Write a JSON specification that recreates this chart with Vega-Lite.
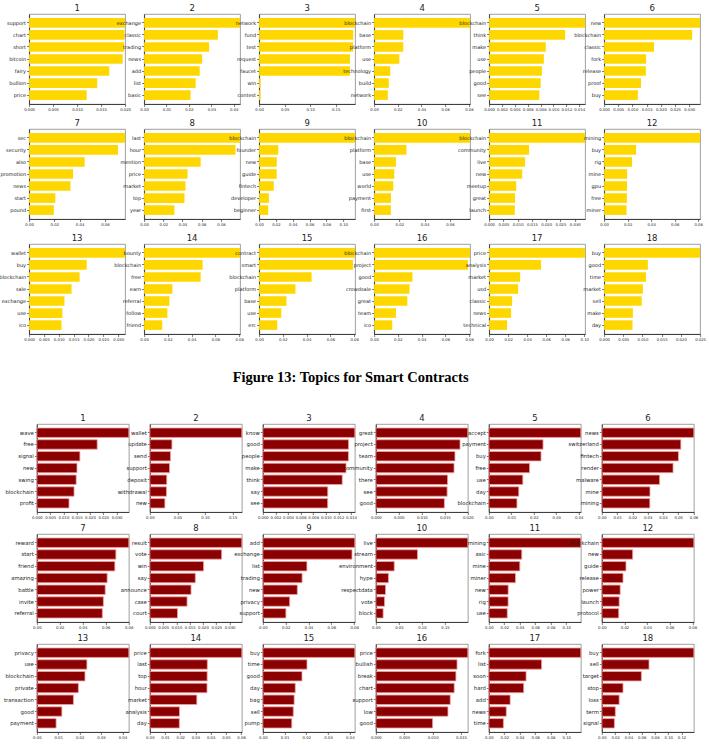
{
  "$schema": "https://vega.github.io/schema/vega-lite/v6.json",
  "background": "white",
  "padding": {"left": -2, "top": 3, "right": 2, "bottom": 2},
  "datasets": {
    "top": [
      {"panel": 1, "word": "support", "value": 0.0200}, {"panel": 1, "word": "chart", "value": 0.0199}, {"panel": 1, "word": "short", "value": 0.0198}, {"panel": 1, "word": "bitcoin", "value": 0.0195}, {"panel": 1, "word": "fairy", "value": 0.0167}, {"panel": 1, "word": "bullion", "value": 0.0142}, {"panel": 1, "word": "price", "value": 0.0120},
      {"panel": 2, "word": "exchange", "value": 0.0428}, {"panel": 2, "word": "classic", "value": 0.0329}, {"panel": 2, "word": "trading", "value": 0.0290}, {"panel": 2, "word": "news", "value": 0.0259}, {"panel": 2, "word": "add", "value": 0.0248}, {"panel": 2, "word": "list", "value": 0.0230}, {"panel": 2, "word": "basic", "value": 0.0207},
      {"panel": 3, "word": "network", "value": 0.188}, {"panel": 3, "word": "fund", "value": 0.1845}, {"panel": 3, "word": "test", "value": 0.184}, {"panel": 3, "word": "request", "value": 0.178}, {"panel": 3, "word": "faucet", "value": 0.1778}, {"panel": 3, "word": "win", "value": 0.003}, {"panel": 3, "word": "contest", "value": 0.0028},
      {"panel": 4, "word": "blockchain", "value": 0.081}, {"panel": 4, "word": "base", "value": 0.0247}, {"panel": 4, "word": "platform", "value": 0.0246}, {"panel": 4, "word": "use", "value": 0.0213}, {"panel": 4, "word": "technology", "value": 0.0136}, {"panel": 4, "word": "build", "value": 0.0124}, {"panel": 4, "word": "network", "value": 0.0116},
      {"panel": 5, "word": "blockchain", "value": 0.0149}, {"panel": 5, "word": "think", "value": 0.0118}, {"panel": 5, "word": "make", "value": 0.0088}, {"panel": 5, "word": "use", "value": 0.0085}, {"panel": 5, "word": "people", "value": 0.0082}, {"panel": 5, "word": "good", "value": 0.0080}, {"panel": 5, "word": "see", "value": 0.0078},
      {"panel": 6, "word": "new", "value": 0.0338}, {"panel": 6, "word": "blockchain", "value": 0.0310}, {"panel": 6, "word": "classic", "value": 0.0176}, {"panel": 6, "word": "fork", "value": 0.0148}, {"panel": 6, "word": "release", "value": 0.0147}, {"panel": 6, "word": "proof", "value": 0.0130}, {"panel": 6, "word": "buy", "value": 0.0119},
      {"panel": 7, "word": "sec", "value": 0.076}, {"panel": 7, "word": "security", "value": 0.0704}, {"panel": 7, "word": "also", "value": 0.044}, {"panel": 7, "word": "promotion", "value": 0.0348}, {"panel": 7, "word": "news", "value": 0.0328}, {"panel": 7, "word": "start", "value": 0.0208}, {"panel": 7, "word": "pound", "value": 0.0196},
      {"panel": 8, "word": "last", "value": 0.0998}, {"panel": 8, "word": "hour", "value": 0.095}, {"panel": 8, "word": "mention", "value": 0.0588}, {"panel": 8, "word": "price", "value": 0.0452}, {"panel": 8, "word": "market", "value": 0.043}, {"panel": 8, "word": "top", "value": 0.042}, {"panel": 8, "word": "year", "value": 0.0315},
      {"panel": 9, "word": "blockchain", "value": 0.114}, {"panel": 9, "word": "founder", "value": 0.0228}, {"panel": 9, "word": "new", "value": 0.021}, {"panel": 9, "word": "guide", "value": 0.0209}, {"panel": 9, "word": "fintech", "value": 0.0174}, {"panel": 9, "word": "developer", "value": 0.0116}, {"panel": 9, "word": "beginner", "value": 0.0108},
      {"panel": 10, "word": "blockchain", "value": 0.076}, {"panel": 10, "word": "platform", "value": 0.0256}, {"panel": 10, "word": "base", "value": 0.0173}, {"panel": 10, "word": "use", "value": 0.016}, {"panel": 10, "word": "world", "value": 0.0152}, {"panel": 10, "word": "payment", "value": 0.0134}, {"panel": 10, "word": "first", "value": 0.0133},
      {"panel": 11, "word": "blockchain", "value": 0.0336}, {"panel": 11, "word": "community", "value": 0.014}, {"panel": 11, "word": "live", "value": 0.0126}, {"panel": 11, "word": "new", "value": 0.0116}, {"panel": 11, "word": "meetup", "value": 0.0095}, {"panel": 11, "word": "great", "value": 0.0091}, {"panel": 11, "word": "launch", "value": 0.009},
      {"panel": 12, "word": "mining", "value": 0.0816}, {"panel": 12, "word": "buy", "value": 0.0272}, {"panel": 12, "word": "rig", "value": 0.0238}, {"panel": 12, "word": "mine", "value": 0.0196}, {"panel": 12, "word": "gpu", "value": 0.0195}, {"panel": 12, "word": "free", "value": 0.0194}, {"panel": 12, "word": "miner", "value": 0.0191},
      {"panel": 13, "word": "wallet", "value": 0.0323}, {"panel": 13, "word": "buy", "value": 0.0194}, {"panel": 13, "word": "blockchain", "value": 0.017}, {"panel": 13, "word": "sale", "value": 0.0143}, {"panel": 13, "word": "exchange", "value": 0.0119}, {"panel": 13, "word": "use", "value": 0.0112}, {"panel": 13, "word": "ico", "value": 0.0109},
      {"panel": 14, "word": "bounty", "value": 0.0808}, {"panel": 14, "word": "blockchain", "value": 0.0493}, {"panel": 14, "word": "free", "value": 0.0476}, {"panel": 14, "word": "earn", "value": 0.0238}, {"panel": 14, "word": "referral", "value": 0.0213}, {"panel": 14, "word": "follow", "value": 0.0196}, {"panel": 14, "word": "friend", "value": 0.0153},
      {"panel": 15, "word": "contract", "value": 0.0808}, {"panel": 15, "word": "smart", "value": 0.079}, {"panel": 15, "word": "blockchain", "value": 0.0442}, {"panel": 15, "word": "platform", "value": 0.0306}, {"panel": 15, "word": "base", "value": 0.023}, {"panel": 15, "word": "use", "value": 0.0187}, {"panel": 15, "word": "erc", "value": 0.0153},
      {"panel": 16, "word": "blockchain", "value": 0.0808}, {"panel": 16, "word": "project", "value": 0.079}, {"panel": 16, "word": "good", "value": 0.0323}, {"panel": 16, "word": "crowdsale", "value": 0.0298}, {"panel": 16, "word": "great", "value": 0.028}, {"panel": 16, "word": "team", "value": 0.0184}, {"panel": 16, "word": "ico", "value": 0.0153},
      {"panel": 17, "word": "price", "value": 0.1008}, {"panel": 17, "word": "analysis", "value": 0.0546}, {"panel": 17, "word": "market", "value": 0.0326}, {"panel": 17, "word": "usd", "value": 0.0305}, {"panel": 17, "word": "classic", "value": 0.0242}, {"panel": 17, "word": "news", "value": 0.0231}, {"panel": 17, "word": "technical", "value": 0.0189},
      {"panel": 18, "word": "buy", "value": 0.0250}, {"panel": 18, "word": "good", "value": 0.0114}, {"panel": 18, "word": "time", "value": 0.0109}, {"panel": 18, "word": "market", "value": 0.0101}, {"panel": 18, "word": "sell", "value": 0.0098}, {"panel": 18, "word": "make", "value": 0.0075}, {"panel": 18, "word": "day", "value": 0.0074}
    ],
    "bottom": [
      {"panel": 1, "word": "wave", "value": 0.0346}, {"panel": 1, "word": "free", "value": 0.0227}, {"panel": 1, "word": "signal", "value": 0.0162}, {"panel": 1, "word": "new", "value": 0.0151}, {"panel": 1, "word": "swing", "value": 0.0148}, {"panel": 1, "word": "blockchain", "value": 0.014}, {"panel": 1, "word": "profit", "value": 0.0121},
      {"panel": 2, "word": "wallet", "value": 0.1666}, {"panel": 2, "word": "update", "value": 0.040}, {"panel": 2, "word": "send", "value": 0.0374}, {"panel": 2, "word": "support", "value": 0.0357}, {"panel": 2, "word": "deposit", "value": 0.0306}, {"panel": 2, "word": "withdrawal", "value": 0.0301}, {"panel": 2, "word": "new", "value": 0.0272},
      {"panel": 3, "word": "know", "value": 0.0146}, {"panel": 3, "word": "good", "value": 0.0136}, {"panel": 3, "word": "people", "value": 0.01358}, {"panel": 3, "word": "make", "value": 0.0132}, {"panel": 3, "word": "think", "value": 0.0126}, {"panel": 3, "word": "say", "value": 0.0103}, {"panel": 3, "word": "see", "value": 0.01029},
      {"panel": 4, "word": "great", "value": 0.0200}, {"panel": 4, "word": "project", "value": 0.0183}, {"panel": 4, "word": "team", "value": 0.0172}, {"panel": 4, "word": "community", "value": 0.0170}, {"panel": 4, "word": "there", "value": 0.0156}, {"panel": 4, "word": "see", "value": 0.0155}, {"panel": 4, "word": "good", "value": 0.0149},
      {"panel": 5, "word": "accept", "value": 0.0409}, {"panel": 5, "word": "payment", "value": 0.0241}, {"panel": 5, "word": "buy", "value": 0.0232}, {"panel": 5, "word": "free", "value": 0.0181}, {"panel": 5, "word": "use", "value": 0.0151}, {"panel": 5, "word": "day", "value": 0.0133}, {"panel": 5, "word": "blockchain", "value": 0.0125},
      {"panel": 6, "word": "news", "value": 0.0602}, {"panel": 6, "word": "switzerland", "value": 0.0517}, {"panel": 6, "word": "fintech", "value": 0.0501}, {"panel": 6, "word": "render", "value": 0.0466}, {"panel": 6, "word": "malware", "value": 0.0378}, {"panel": 6, "word": "mine", "value": 0.0315}, {"panel": 6, "word": "mining", "value": 0.0314},
      {"panel": 7, "word": "reward", "value": 0.0802}, {"panel": 7, "word": "start", "value": 0.0689}, {"panel": 7, "word": "friend", "value": 0.068}, {"panel": 7, "word": "amazing", "value": 0.0613}, {"panel": 7, "word": "battle", "value": 0.0596}, {"panel": 7, "word": "invite", "value": 0.058}, {"panel": 7, "word": "referral", "value": 0.0571},
      {"panel": 8, "word": "result", "value": 0.0346}, {"panel": 8, "word": "vote", "value": 0.027}, {"panel": 8, "word": "win", "value": 0.0202}, {"panel": 8, "word": "say", "value": 0.0171}, {"panel": 8, "word": "announce", "value": 0.0155}, {"panel": 8, "word": "case", "value": 0.014}, {"panel": 8, "word": "court", "value": 0.0104},
      {"panel": 9, "word": "add", "value": 0.0806}, {"panel": 9, "word": "exchange", "value": 0.0781}, {"panel": 9, "word": "list", "value": 0.0386}, {"panel": 9, "word": "trading", "value": 0.0344}, {"panel": 9, "word": "new", "value": 0.0302}, {"panel": 9, "word": "privacy", "value": 0.0235}, {"panel": 9, "word": "support", "value": 0.0202},
      {"panel": 10, "word": "live", "value": 0.1995}, {"panel": 10, "word": "stream", "value": 0.0903}, {"panel": 10, "word": "environment", "value": 0.0399}, {"panel": 10, "word": "hype", "value": 0.0273}, {"panel": 10, "word": "respectdata", "value": 0.021}, {"panel": 10, "word": "vote", "value": 0.0189}, {"panel": 10, "word": "block", "value": 0.0158},
      {"panel": 11, "word": "mining", "value": 0.1188}, {"panel": 11, "word": "asic", "value": 0.0425}, {"panel": 11, "word": "mine", "value": 0.040}, {"panel": 11, "word": "miner", "value": 0.0344}, {"panel": 11, "word": "new", "value": 0.025}, {"panel": 11, "word": "rig", "value": 0.0249}, {"panel": 11, "word": "use", "value": 0.0238},
      {"panel": 12, "word": "blockchain", "value": 0.0812}, {"panel": 12, "word": "new", "value": 0.0272}, {"panel": 12, "word": "guide", "value": 0.0213}, {"panel": 12, "word": "release", "value": 0.0187}, {"panel": 12, "word": "power", "value": 0.0162}, {"panel": 12, "word": "launch", "value": 0.0153}, {"panel": 12, "word": "protocol", "value": 0.0149},
      {"panel": 13, "word": "privacy", "value": 0.0430}, {"panel": 13, "word": "use", "value": 0.0234}, {"panel": 13, "word": "blockchain", "value": 0.0225}, {"panel": 13, "word": "private", "value": 0.0194}, {"panel": 13, "word": "transaction", "value": 0.0171}, {"panel": 13, "word": "good", "value": 0.0117}, {"panel": 13, "word": "payment", "value": 0.009},
      {"panel": 14, "word": "price", "value": 0.0605}, {"panel": 14, "word": "last", "value": 0.0378}, {"panel": 14, "word": "top", "value": 0.0377}, {"panel": 14, "word": "hour", "value": 0.0376}, {"panel": 14, "word": "market", "value": 0.0309}, {"panel": 14, "word": "analysis", "value": 0.0195}, {"panel": 14, "word": "day", "value": 0.0194},
      {"panel": 15, "word": "buy", "value": 0.0423}, {"panel": 15, "word": "time", "value": 0.0203}, {"panel": 15, "word": "good", "value": 0.018}, {"panel": 15, "word": "day", "value": 0.0149}, {"panel": 15, "word": "bag", "value": 0.0144}, {"panel": 15, "word": "sell", "value": 0.0140}, {"panel": 15, "word": "pump", "value": 0.0133},
      {"panel": 16, "word": "price", "value": 0.0162}, {"panel": 16, "word": "bullish", "value": 0.0143}, {"panel": 16, "word": "break", "value": 0.0141}, {"panel": 16, "word": "chart", "value": 0.0138}, {"panel": 16, "word": "support", "value": 0.0131}, {"panel": 16, "word": "low", "value": 0.0127}, {"panel": 16, "word": "good", "value": 0.0100},
      {"panel": 17, "word": "fork", "value": 0.1188}, {"panel": 17, "word": "list", "value": 0.0681}, {"panel": 17, "word": "soon", "value": 0.0481}, {"panel": 17, "word": "hard", "value": 0.045}, {"panel": 17, "word": "add", "value": 0.0275}, {"panel": 17, "word": "news", "value": 0.0225}, {"panel": 17, "word": "time", "value": 0.0188},
      {"panel": 18, "word": "buy", "value": 0.1385}, {"panel": 18, "word": "sell", "value": 0.071}, {"panel": 18, "word": "target", "value": 0.0595}, {"panel": 18, "word": "stop", "value": 0.0319}, {"panel": 18, "word": "loss", "value": 0.0261}, {"panel": 18, "word": "term", "value": 0.0203}, {"panel": 18, "word": "signal", "value": 0.0189}
    ]
  },
  "config": {
    "font": "DejaVu Sans",
    "view": {"stroke": "#888", "strokeWidth": 0.8},
    "axis": {"grid": false, "labelFont": "DejaVu Sans", "labelColor": "#222", "tickColor": "#222", "domainColor": "#222", "domainWidth": 0.8, "tickWidth": 0.6, "tickSize": 2.5, "labelPadding": 1},
    "header": {"labelFont": "DejaVu Sans", "labelFontSize": 8.5, "labelColor": "#222", "labelPadding": 2}
  },
  "spacing": 27,
  "center": true,
  "vconcat": [
    {
      "data": {"name": "top"},
      "facet": {"field": "panel", "type": "ordinal", "title": null},
      "columns": 6,
      "spacing": {"column": 19, "row": 25},
      "bounds": "flush",
      "resolve": {"scale": {"x": "independent", "y": "independent"}},
      "spec": {
        "width": 96,
        "height": 90,
        "mark": {"type": "bar", "color": "#FFD700"},
        "encoding": {
          "y": {"field": "word", "type": "nominal", "sort": "-x", "title": null,
                "scale": {"paddingInner": 0.2, "paddingOuter": 0.34},
                "axis": {"labelFontSize": 5, "labelLimit": 80}},
          "x": {"field": "value", "type": "quantitative", "title": null,
                "scale": {"nice": false},
                "axis": {"labelFontSize": 3.8, "tickCount": 5, "labelFlush": false, "labelOverlap": false}}
        }
      }
    },
    {
      "data": {"name": "bottom"},
      "title": {"text": "Figure 13: Topics for Smart Contracts", "font": "Liberation Serif", "fontSize": 14.5, "fontWeight": "bold", "color": "black", "anchor": "middle", "offset": 28},
      "facet": {"field": "panel", "type": "ordinal", "title": null},
      "columns": 6,
      "spacing": {"column": 21, "row": 22},
      "bounds": "flush",
      "resolve": {"scale": {"x": "independent", "y": "independent"}},
      "spec": {
        "width": 92,
        "height": 88,
        "mark": {"type": "bar", "color": "#8B0000", "stroke": "#f2a0a0", "strokeWidth": 0.8},
        "encoding": {
          "y": {"field": "word", "type": "nominal", "sort": "-x", "title": null,
                "scale": {"paddingInner": 0.2, "paddingOuter": 0.34},
                "axis": {"labelFontSize": 5.3, "labelLimit": 80}},
          "x": {"field": "value", "type": "quantitative", "title": null,
                "scale": {"nice": false},
                "axis": {"labelFontSize": 3.8, "tickCount": 5, "labelFlush": false, "labelOverlap": false}}
        }
      }
    }
  ]
}
